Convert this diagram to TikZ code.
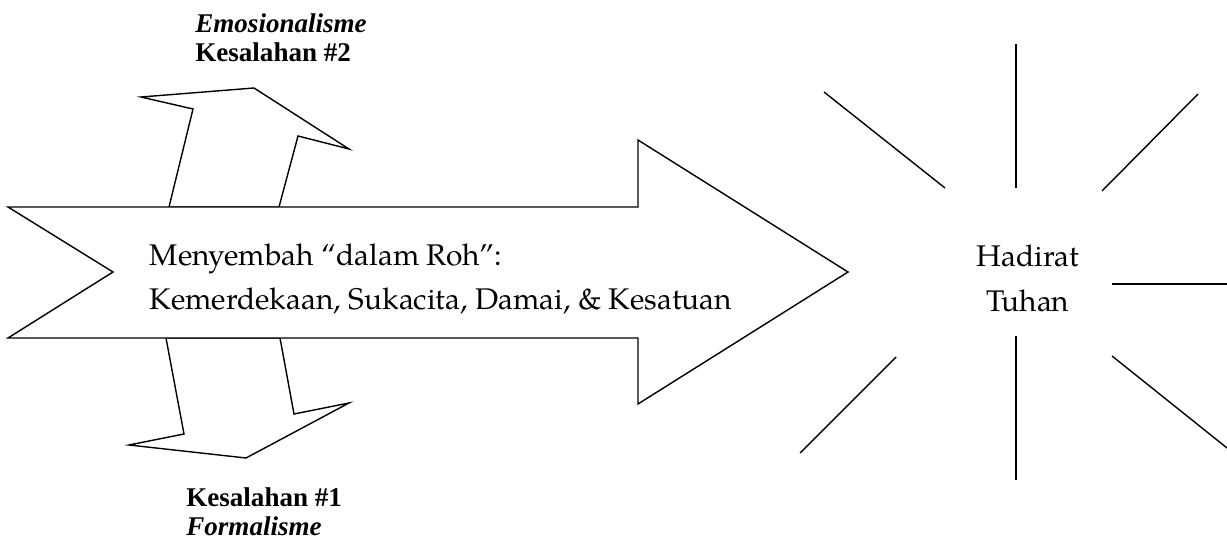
\documentclass[tikz,border=0pt]{standalone}
\usepackage{fontspec}
\setmainfont{TeX Gyre Pagella}
\newfontfamily\timesfont{Liberation Serif}
\usetikzlibrary{positioning}
\tikzset{
  panah/.style={draw,line width=0.8pt,fill=white,line join=miter},
  sinar/.style={line width=0.8pt},
  isi/.style={font=\fontsize{17}{25.5}\selectfont,align=left,inner sep=0pt},
  hadir/.style={font=\fontsize{17}{25.5}\selectfont,align=center,inner sep=0pt},
  salah/.style={font=\timesfont\fontsize{15.4}{16.5}\selectfont\bfseries,align=left,inner sep=0pt},
}

\begin{document}
\begin{tikzpicture}[x=0.02cm,y=-0.02cm]
  \useasboundingbox (0,0) rectangle (1227,540);
  % panah kecil ke atas dan ke bawah
  \draw[panah] (169,207) -- (193,109) -- (141,97) -- (254,88) -- (349,149) -- (298,136) -- (279,207) -- cycle;
  \draw[panah] (166,338) -- (184,434) -- (129,445) -- (246,458) -- (349,403) -- (294,414) -- (280,338) -- cycle;
  % panah besar
  \draw[panah] (8,207) -- (638,207) -- (638,140) -- (848,272) -- (638,404) -- (638,338) -- (8,338) -- (113,272) -- cycle;
  \node[isi] (teks) at (441,279) {Menyembah ``dalam Roh'':\\Kemerdekaan, Sukacita, Damai, \& Kesatuan};
  % hadirat
  \node[hadir] (tuhan) at (1028,278) {Hadirat\\Tuhan};
  \foreach \xa/\ya/\xb/\yb in {1016/44/1016/188, 824/92/945/188, 1198/94/1102/191,
      1112/284/1227/284, 1112/356/1227/448, 1016/336/1016/480, 896/357/800/453}
    \draw[sinar] (\xa,\ya) -- (\xb,\yb);
  % label kesalahan
  \node[salah,anchor=north west] (emosi) at (195,13) {\itshape Emosionalisme\\Kesalahan \#2};
  \node[salah,anchor=north west] (formal) at (186,487) {Kesalahan \#1\\\itshape Formalisme};
\end{tikzpicture}
\end{document}
